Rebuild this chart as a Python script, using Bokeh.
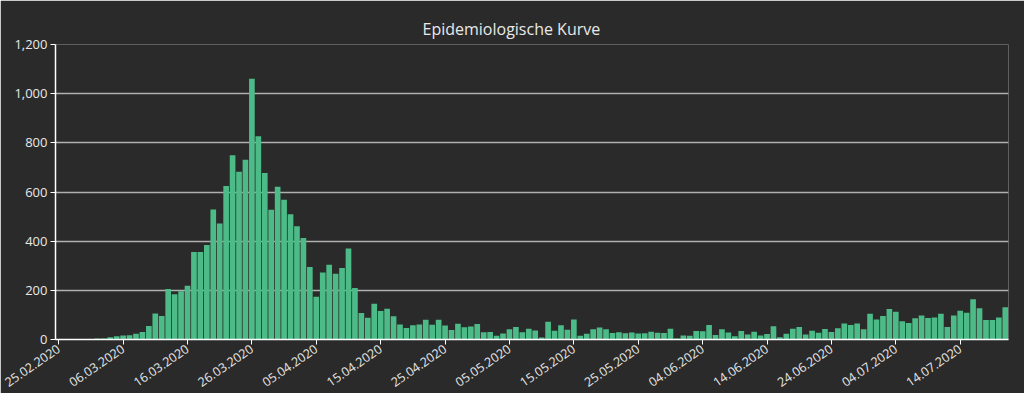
import pandas as pd
from bokeh.plotting import figure
from bokeh.models import (ColumnDataSource, Range1d, FixedTicker, DatetimeTickFormatter,
                          NumeralTickFormatter)
from bokeh.embed import file_html
from bokeh.resources import INLINE

# ---------------- data ----------------
start_date = "2020-02-25"
daily_cases = [
    0, 1, 1, 1, 0, 0, 4, 4, 9, 13,
    16, 17, 23, 31, 55, 106, 96, 205, 184, 196,
    219, 356, 356, 384, 529, 472, 624, 749, 682, 731,
    1061, 827, 677, 528, 621, 568, 509, 461, 413, 295,
    174, 273, 304, 267, 291, 370, 209, 108, 88, 145,
    116, 125, 95, 61, 47, 58, 61, 80, 60, 80,
    57, 39, 64, 50, 53, 63, 29, 31, 15, 24,
    42, 51, 30, 44, 37, 8, 72, 36, 58, 40,
    81, 15, 23, 42, 49, 42, 26, 30, 25, 28,
    24, 25, 32, 27, 26, 44, 4, 16, 15, 35,
    34, 59, 18, 42, 28, 13, 35, 20, 32, 16,
    22, 54, 9, 23, 44, 51, 20, 36, 27, 43,
    31, 46, 65, 59, 65, 42, 105, 81, 96, 124,
    113, 74, 67, 86, 98, 87, 90, 105, 51, 98,
    117, 109, 164, 127, 79, 79, 90, 131,
]
dates = pd.date_range(start_date, periods=len(daily_cases), freq="D")
tick_dates = ["2020-02-25", "2020-03-06", "2020-03-16", "2020-03-26", "2020-04-05",
              "2020-04-15", "2020-04-25", "2020-05-05", "2020-05-15", "2020-05-25",
              "2020-06-04", "2020-06-14", "2020-06-24", "2020-07-04", "2020-07-14"]
y_ticks = [0, 200, 400, 600, 800, 1000, 1200]
title_text = "Epidemiologische Kurve"

# ---------------- style ----------------
BG = "#2a2a2a"
BAR = "#4cbb87"
TXT = "#e8e8e8"
FONT = "Open Sans"

src = ColumnDataSource(dict(x=dates, y=daily_cases))
day = pd.Timedelta(days=1)

p = figure(width=1024, height=393, output_backend="svg", toolbar_location=None,
           x_axis_type="datetime",
           x_range=Range1d(dates[0] - day / 2, dates[-1] + day / 2),
           y_range=Range1d(0, 1200),
           min_border_left=55, min_border_right=16, min_border_top=44, min_border_bottom=52)
p.background_fill_color = BG
p.border_fill_color = BG
p.outline_line_color = None

p.title.text = title_text
p.title.align = "left"
p.title.offset = 367
p.title.standoff = 10
p.title.text_color = TXT
p.title.text_font = FONT
p.title.text_font_size = "16px"
p.title.text_font_style = "normal"

p.vbar(x="x", top="y", width=day * 0.88, source=src, fill_color=BAR, line_color=None)

# axes
tick_ms = [pd.Timestamp(d).value // 10**6 for d in tick_dates]
p.xaxis.ticker = FixedTicker(ticks=tick_ms)
p.xaxis.formatter = DatetimeTickFormatter(days="%d.%m.%Y", months="%d.%m.%Y", years="%d.%m.%Y")
p.xaxis.major_label_orientation = 0.6
p.yaxis.ticker = FixedTicker(ticks=y_ticks)
p.yaxis.formatter = NumeralTickFormatter(format="0,0")

for ax in (p.xaxis[0], p.yaxis[0]):
    ax.axis_line_color = "white"
    ax.axis_line_width = 1.5
    ax.major_tick_line_color = "white"
    ax.major_tick_out = 5
    ax.major_tick_in = 0
    ax.minor_tick_line_color = None
    ax.major_label_text_color = TXT
    ax.major_label_text_font = FONT
    ax.major_label_standoff = 3
p.xaxis.major_label_text_font_size = "12.5px"
p.yaxis.major_label_text_font_size = "13px"

p.xgrid.grid_line_color = None
p.ygrid.grid_line_color = "#b0b0b0"
p.ygrid.grid_line_width = 1.5

open("out.html", "w").write(file_html(p, INLINE))
